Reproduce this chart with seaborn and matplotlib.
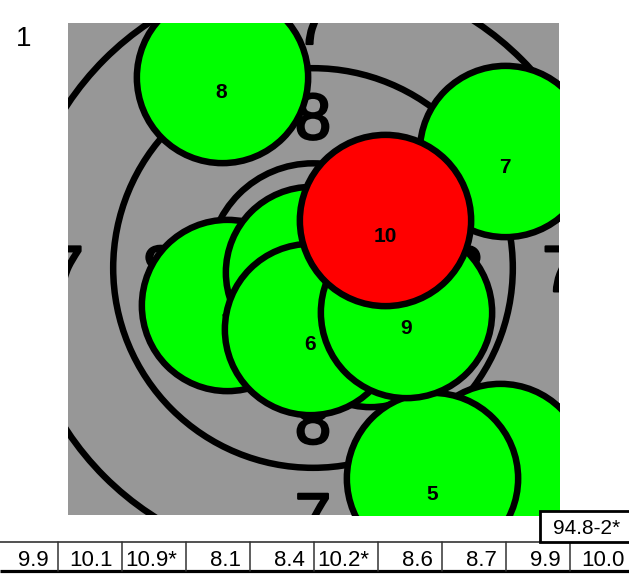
import numpy as np
import pandas as pd
import matplotlib
matplotlib.use("Agg")
import matplotlib.pyplot as plt
import matplotlib.patheffects as pe
from matplotlib.patches import Circle, Rectangle
import seaborn as sns

# ---------------- data ----------------
shot_numbers = [1, 2, 3, 4, 5, 6, 7, 8, 9, 10]
shot_x_mm = [-2.26, 1.50, -0.05, 4.91, 3.13, -0.08, 5.04, -2.40, 2.44, 1.89]
shot_y_mm = [-0.96, -1.39, -0.11, -5.28, -5.52, -1.60, 3.07, 5.03, -1.16, 1.25]
shot_scores = ["9.9", "10.1", "10.9*", "8.1", "8.4", "10.2*", "8.6", "8.7", "9.9", "10.0"]
shot_colors = ["#00ff00"] * 9 + ["#ff0000"]
total_label = "94.8-2*"
series_label = "1"
ring_radii_mm = [0.25, 2.75, 5.25, 7.75, 10.25]
ring_label_values = [8, 7]
ring_label_radii_mm = [4.0, 6.5]
pellet_radius_mm = 2.25

# ---------------- layout ----------------
sns.set_theme(style="white")
plt.rcParams['font.family'] = ['Liberation Sans', 'DejaVu Sans']
W, H, DPI = 629, 575, 100
fig = plt.figure(figsize=(W / DPI, H / DPI), dpi=DPI)
fig.patch.set_facecolor("white")


def px_box(l, t, r, b):
    return [l / W, 1 - b / H, (r - l) / W, (b - t) / H]


T_L, T_T, T_R, T_B = 68, 23, 559, 515
CX, CY = 313, 268
PX_PER_MM = 38.06
ax = fig.add_axes(px_box(T_L, T_T, T_R, T_B))
xlim = ((T_L - CX) / PX_PER_MM, (T_R - CX) / PX_PER_MM)
ylim = ((CY - T_B) / PX_PER_MM, (CY - T_T) / PX_PER_MM)
ax.set_facecolor("#979797")
for s in ax.spines.values():
    s.set_visible(False)

LW = 6.5 * 72 / DPI  # ~6.5 px lines

# rings
for r in ring_radii_mm:
    ax.add_patch(Circle((0, 0), r, fill=False, ec="black", lw=LW, zorder=1))

# ring numbers
ring_fs = 47
cap_px = ring_fs * DPI / 72 * 0.716
for val, rr in zip(ring_label_values, ring_label_radii_mm):
    for dx, dy in [(0, 1), (0, -1), (-1, 0), (1, 0)]:
        t = ax.annotate(str(val), (dx * rr, dy * rr), xytext=(0, -cap_px / 2),
                        textcoords="offset pixels", ha="center", va="baseline",
                        fontsize=ring_fs, color="black", zorder=2, clip_on=True,
                        annotation_clip=False)
        t.set_path_effects([pe.withStroke(linewidth=1.6, foreground="black")])

# shots
df = pd.DataFrame({"shot": shot_numbers, "x": shot_x_mm, "y": shot_y_mm,
                   "score": shot_scores, "color": shot_colors})
diam_pt = 2 * pellet_radius_mm * PX_PER_MM * 72 / DPI
lab_fs = 15
lab_cap = lab_fs * DPI / 72 * 0.716
for i, row in df.iterrows():
    sns.scatterplot(data=df.iloc[[i]], x="x", y="y", s=diam_pt ** 2,
                    color=row["color"], edgecolor="black", linewidth=LW,
                    ax=ax, zorder=10 + 2 * i, legend=False)
    ax.annotate(str(row["shot"]), (row["x"], row["y"]),
                xytext=(0, -14 - lab_cap / 2), textcoords="offset pixels",
                ha="center", va="baseline", fontsize=lab_fs, fontweight="bold",
                color="black", zorder=11 + 2 * i, clip_on=True,
                annotation_clip=False)

ax.set_xlim(*xlim)
ax.set_ylim(*ylim)
ax.set_xticks([])
ax.set_yticks([])
ax.set_xlabel("")
ax.set_ylabel("")

# series number
fig.text(24 / W, 1 - 46 / H, series_label, ha="center", va="baseline",
         fontsize=20, color="black")

# ---------------- score table ----------------
tax = fig.add_axes(px_box(0, 500, W, H))
tax.set_xlim(0, W)
tax.set_ylim(H, 500)
tax.axis("off")
tax.patch.set_alpha(0)

CELL_W, CELL_X0 = 64, -6
n = len(shot_scores)
tax.plot([0, W], [541.5, 541.5], color="#222222", lw=1.1, solid_capstyle="butt")
tax.plot([0, W], [570.5, 570.5], color="black", lw=2.3, solid_capstyle="butt")
for k in range(1, n):
    xk = CELL_X0 + CELL_W * k
    tax.plot([xk, xk], [541.5, 570.5], color="#333333", lw=1.1)
for i, s in enumerate(shot_scores):
    tax.text(CELL_X0 + CELL_W * (i + 1) - 9, 566, s, ha="right", va="baseline",
             fontsize=16, color="black")

# total box
tax.add_patch(Rectangle((539.5, 510.5), 100, 31, facecolor="white",
                        edgecolor="black", lw=2.0, zorder=3, clip_on=False))
tax.text(620, 534, total_label, ha="right", va="baseline", fontsize=15,
         color="black", zorder=4)

fig.savefig("out.png", dpi=DPI)
